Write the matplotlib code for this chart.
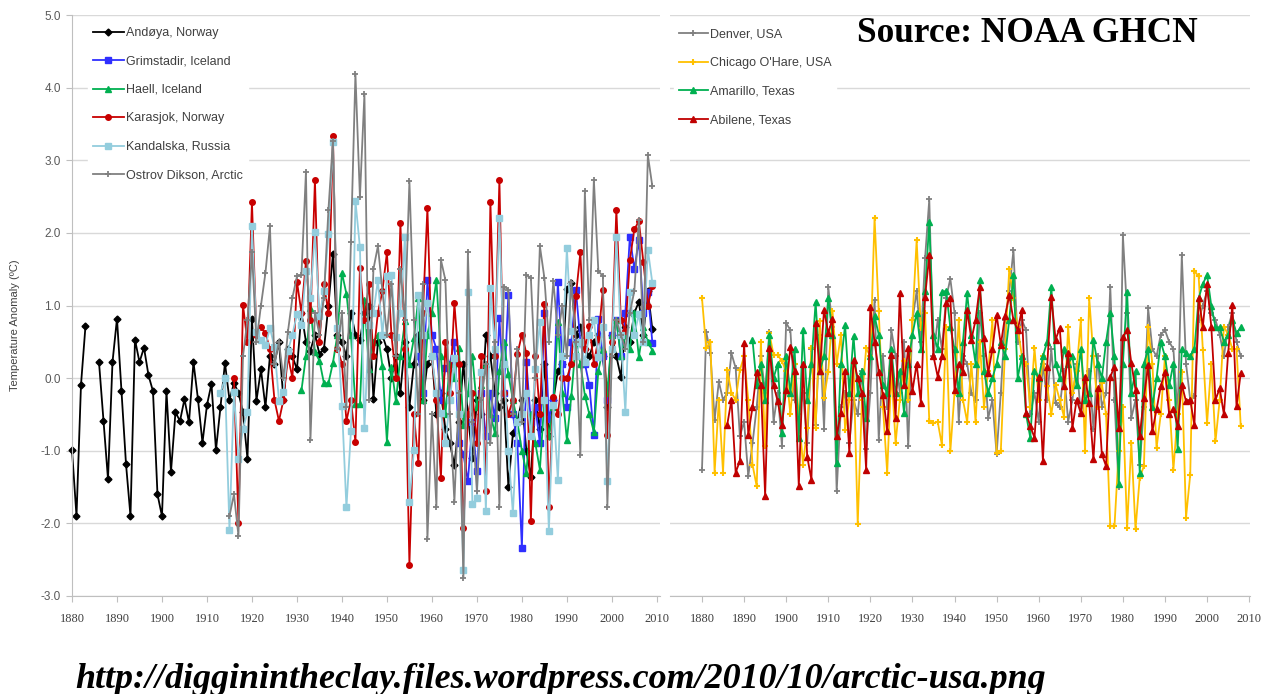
import numpy as np
import matplotlib.pyplot as plt

nan = np.nan

# ---- left panel: Arctic stations, temperature anomaly (deg C), one value per year
andoya_start = 1880
andoya = [-0.99, -1.9, -0.09, 0.72, nan, nan, 0.22, -0.59, -1.39, 0.22,
          0.82, -0.18, -1.18, -1.9, 0.53, 0.22, 0.42, 0.04, -0.18, -1.6,
          -1.9, -0.18, -1.29, -0.47, -0.59, -0.29, -0.61, 0.22, -0.29, -0.89,
          -0.37, -0.08, -0.99, -0.4, 0.21, -0.3, -0.07, -0.2, -0.47, -1.11,
          0.81, -0.31, 0.12, -0.4, 0.31, 0.2, 0.5, -0.3, 0.4, 0.3,
          0.12, 0.9, 0.5, 0.38, 0.6, 0.33, 0.4, 1.0, 1.71, 0.6,
          0.5, 0.3, 0.9, 0.6, 0.52, 0.9, 1.0, -0.29, 0.5, 0.59,
          0.4, 0.0, 0.3, -0.2, 0.5, -0.4, 0.2, 0.6, -0.3, 0.2,
          0.3, -0.5, -0.2, -0.7, -0.9, -1.2, -0.6, 0.2, -0.5, -1.1,
          -0.3, -0.5, 0.6, 0.3, -0.2, -0.4, -0.3, -1.5, -0.76, -0.6,
          -0.3, -1.0, -1.36, -0.3, -0.7, 0.2, -0.8, -0.3, 0.1, 0.2,
          1.23, 1.31, 0.6, 0.7, 0.4, 0.3, 0.5, 0.6, 0.3, -0.4,
          0.6, 0.3, 0.02, 0.7, 0.5, 0.9, 1.05, 0.6, 1.2, 0.67]

grimstadir_start = 1957
grimstadir = [0.3, -0.2, 1.35,
              0.6, 0.4, -0.3, 0.14, 0.2, 0.5, -0.9, -1.05, -1.42, -0.6,
              -1.28, -0.2, -0.8, -0.2, -0.55, 0.83, -0.2, 1.15, -0.5, -0.9,
              -2.34, 0.22, -0.6, -0.4, -0.9, 0.9, -0.56, -0.3, 1.32, 0.2,
              -0.4, 0.5, 1.22, 0.5, 0.2, -0.1, -0.79, 0.81, 0.3, -0.3,
              0.6, 0.8, 0.3, 0.9, 1.95, 1.5, 1.9, 0.9, 1.18, 0.49]

haell_start = 1931
haell = [-0.17, 0.3, 0.97, 0.36, 0.24, -0.07, -0.07, 0.21, 0.6,
         1.45, 1.16, 0.59, -0.36, -0.36, 1.07, 0.12, 0.5, 0.6, 0.17,
         -0.88, 0.16, -0.32, 0.3, 0.78, 0.2, 0.55, 1.1, -0.3, 0.6,
         0.9, 1.35, 0.3, -0.5, 0.2, 0.0, 0.41, -0.64, -0.2, 0.3,
         -0.4, -0.1, 0.2, -0.5, -0.76, 0.1, 0.5, 0.05, -0.3, -0.6,
         -1.0, -1.3, -0.5, -0.9, -1.26, -0.3, -0.8, -0.4, 0.77, -0.2,
         -0.85, -0.24, 0.49, 0.2, -0.24, -0.5, -0.74, 0.1, 0.4, -0.2,
         0.6, 0.8, 0.3, 0.6, 0.4, 0.9, 0.29, 0.7, 0.5, 0.38]

karasjok_start = 1916
karasjok = [0.0, -1.99, 1.01, 0.5,
            2.42, 0.6, 0.7, 0.62, 0.4, -0.3, -0.59, -0.3, 0.3, 0.0,
            1.33, 0.9, 1.61, 0.8, 2.73, 0.5, 1.3, 0.9, 3.33, 0.4,
            0.2, -0.59, -0.3, -0.88, 1.52, 0.8, 1.3, 0.3, 0.9, 1.2,
            1.73, 0.6, 0.0, 2.13, 0.4, -2.57, -0.5, -1.17, 0.9, 2.34,
            0.3, -0.3, -1.38, 0.5, -0.2, 1.03, 0.2, -2.06, -0.5, -0.2,
            -0.9, 0.3, -1.56, 2.43, 0.3, 2.73, -0.2, -0.5, -0.3, 0.33,
            0.6, 0.34, -1.97, 0.31, -0.49, 1.02, -1.77, -0.26, -0.5, 0.0,
            0.0, 0.2, 1.13, 1.73, 0.4, 0.72, 0.2, 0.54, 1.22, -0.79,
            0.5, 2.32, 0.8, 0.65, 1.63, 2.05, 2.16, 1.6, 1.0, 1.27]

kandalaksha_start = 1913
kandalaksha = [-0.21, 0.0, -2.09, -0.19, -1.11, -0.7, -0.47,
               2.09, 0.64, 0.52, 0.45, 0.69, 0.43, -0.31, -0.19, 0.38, 0.6,
               0.88, 0.73, 1.47, 1.1, 2.01, 0.85, 1.2, 1.99, 3.25, 0.69,
               -0.38, -1.78, -0.73, 2.44, 1.8, -0.69, 0.73, 0.9, 1.35, 0.59,
               1.4, 1.42, 0.57, 0.9, 1.95, -1.7, -0.99, 1.15, 0.6, 1.03,
               0.3, -0.2, -0.48, -0.9, -0.3, 0.28, -0.5, -2.64, 1.18, -1.74,
               -1.65, 0.09, -1.83, 1.24, 0.4, 2.2, 0.2, -1.01, -1.86, -0.6,
               -0.5, -0.2, -0.8, 0.13, 0.77, -0.3, -2.1, -0.37, -1.4, 0.3,
               1.79, 0.65, 0.3, 0.5, 0.22, 0.6, 0.8, 0.29, 0.7, -1.42,
               0.4, 1.95, 0.6, -0.47, 1.18, 0.6, 0.88, 0.5, 1.77, 1.31]

dikson_start = 1915
dikson = [-1.9, -1.6, -2.17, 0.3, 0.8,
          1.73, 0.5, 1.0, 1.45, 2.09, 0.2, 0.5, 0.0, 0.64, 1.11,
          1.4, 1.42, 2.84, -0.85, 0.9, 0.6, 1.11, 2.32, 3.27, 0.4,
          0.9, -0.4, 1.87, 4.19, 2.49, 3.91, -0.3, 1.5, 1.82, 1.2,
          0.6, 1.3, 0.3, 1.5, 0.8, 2.71, 0.8, -0.5, 1.3, -2.22,
          -0.5, -1.77, 1.63, 1.35, -0.5, -1.7, -0.2, -2.75, 1.74, -0.6,
          -1.56, -0.3, 0.2, -0.9, 0.5, -1.77, 1.26, 1.22, -0.5, 0.4,
          -0.6, 1.42, 1.38, 0.0, 1.82, 1.38, 0.5, 1.34, 0.6, 1.0,
          0.3, 1.32, 0.5, -1.06, 2.57, 0.8, 2.73, 1.47, 1.41, -1.77,
          0.3, 0.8, 0.6, 0.4, 0.9, 1.2, 2.18, 0.5, 3.07, 2.64]

# ---- right panel: USA stations
denver_start = 1880
denver = [-1.26, 0.64, 0.34, -0.57, -0.05, -0.3, -0.2, 0.34, 0.14, -0.8,
          -0.6, -1.35, -0.9, -0.4, 0.3, -0.2, 0.64, -0.6, -0.2, -0.94,
          0.76, 0.66, -0.3, -0.5, -0.2, -0.9, 0.4, -0.64, 0.6, -0.7,
          1.26, 0.7, -1.56, -0.4, -0.2, -0.9, -0.3, -0.5, 0.1, -0.98,
          -0.2, 1.08, -0.85, 0.3, -0.4, 0.66, 0.3, -0.2, 0.5, -0.94,
          0.8, 1.2, 0.5, 1.65, 2.46, 0.3, 0.8, 0.4, 1.1, 1.37,
          0.9, -0.6, 0.3, 0.2, -0.2, -0.3, 0.9, 0.3, -0.55, -0.3,
          -1.05, -0.2, 0.8, 1.2, 1.76, 0.5, 0.8, 0.66, -0.5, -0.2,
          -0.6, 0.2, -0.3, 0.4, -0.34, -0.4, 0.1, -0.6, -0.3, 0.2,
          -0.5, -0.2, 0.1, -0.7, 0.3, -0.4, -0.2, 1.26, -0.3, -1.5,
          1.97, 0.9, -0.55, -0.3, -1.2, -0.4, 0.96, 0.4, 0.3, 0.6,
          0.66, 0.5, 0.4, -0.5, 1.69, 0.2, -0.3, -0.25, 0.8, 1.0,
          1.2, 0.9, 0.8, 0.6, 0.3, 0.7, 0.9, 0.5, 0.3]

chicago_start = 1880
chicago = [1.1, 0.41, 0.5, -1.3, -0.3, -1.3, 0.11, -0.2, -0.3, 0.11,
           0.3, -0.3, -1.19, -1.49, 0.5, -0.94, 0.62, 0.32, 0.32, 0.23,
           0.1, -0.5, 0.2, -0.5, -1.19, -0.69, 0.41, -0.69, 0.78, -0.27,
           0.09, 0.92, 0.2, 0.59, -0.71, -0.3, 0.2, -2.01, -0.3, 0.41,
           0.3, 2.21, 0.92, -0.4, -1.3, 0.1, -0.89, -0.3, 0.23, -0.3,
           0.8, 1.9, 0.69, 0.9, -0.59, -0.62, -0.6, -0.92, 0.7, -1.01,
           -0.2, 0.8, -0.3, -0.6, 0.2, -0.6, 0.5, -0.4, 0.1, 0.8,
           -1.03, -1.0, 0.4, 1.5, 1.1, 0.71, 0.3, 0.2, -0.4, 0.41,
           -0.3, 0.3, -0.11, -0.5, -0.09, -0.3, -0.53, 0.71, -0.2, 0.1,
           0.8, -1.01, 1.1, 0.3, -0.4, -0.07, -0.5, -2.04, -2.04, -1.01,
           -0.4, -2.06, -0.9, -2.08, -1.37, -1.21, 0.71, 0.2, -0.96, -0.5,
           0.3, -0.3, -1.26, -0.5, 0.09, -1.92, -1.33, 1.48, 1.4, 0.39,
           -0.62, 0.2, -0.87, -0.3, 0.71, 0.6, 0.4, 0.4, -0.66]

amarillo_start = 1892
amarillo = [0.53, -0.1, 0.2, -0.3, 0.6, 0.0, 0.2, -0.76,
            0.3, -0.2, 0.4, -0.82, 0.66, -0.3, 0.2, 1.05, 0.1, 0.3,
            1.1, 0.6, -1.17, 0.2, 0.73, -0.2, 0.58, -0.2, 0.1, -0.55,
            0.3, 0.85, 0.6, -0.1, -0.2, 0.4, -0.2, 0.1, -0.48, 0.2,
            0.6, 0.9, 0.4, 1.2, 2.15, 0.6, 0.4, 1.19, 1.2, 0.7,
            0.4, -0.2, 0.5, 1.17, 0.6, 0.2, 1.35, 0.1, -0.2, 0.0,
            0.2, 0.5, 0.3, 0.8, 1.42, 0.0, 0.3, -0.5, -0.82, 0.1,
            0.0, 0.3, 0.5, 1.26, 0.2, 0.0, 0.4, 0.2, 0.3, -0.1,
            0.4, -0.3, -0.2, 0.53, 0.2, 0.0, 0.5, 0.89, 0.3, -1.46,
            0.2, 1.19, -0.2, 0.1, -1.3, 0.2, 0.4, -0.4, 0.0, 0.5,
            0.3, -0.1, 0.2, -0.98, 0.4, 0.34, 0.3, 0.4, 1.1, 1.3,
            1.42, 1.0, 0.7, 0.7, 0.5, 0.6, 0.8, 0.62, 0.7]

abilene_start = 1886
abilene = [-0.64, -0.3, -1.3, -1.14,
           0.48, -0.78, -0.4, 0.09, -0.1, -1.62, 0.41, -0.1, -0.32, -0.64,
           -0.16, 0.43, 0.1, -1.49, 0.2, -1.08, -1.4, 0.76, 0.1, 0.94,
           0.62, 0.82, -0.8, -0.48, 0.1, -1.03, 0.25, 0.0, -0.2, -1.26,
           0.98, 0.5, 0.09, -0.23, -0.73, 0.32, -0.55, 1.17, -0.09, 0.41,
           -0.18, 0.2, -0.34, 1.12, 1.69, 0.3, 0.02, 0.3, 1.03, 1.1,
           -0.16, 0.2, 0.09, 0.94, 0.53, 0.8, 1.26, 0.55, 0.07, 0.4,
           0.87, 0.46, 0.85, 1.14, 0.8, 0.66, 0.94, -0.48, -0.66, -0.82,
           0.02, -1.14, 0.16, 1.12, 0.53, 0.69, -0.11, 0.34, -0.69, -0.3,
           -0.48, 0.02, -0.34, -1.12, -0.14, -1.05, -1.21, 0.02, 0.16, -0.69,
           0.57, 0.66, 0.21, -0.16, -0.8, -0.27, 0.18, -0.73, -0.43, -0.11,
           0.09, -0.5, -0.43, -0.66, -0.09, -0.32, -0.3, -0.65, 1.1, 0.71,
           1.3, 0.71, -0.3, -0.14, -0.5, 0.34, 1.01, -0.39, 0.07]

decades = list(range(1880, 2011, 10))
yticks = list(range(-3, 6))

W, H = 1281, 694
fig = plt.figure(figsize=(W / 100, H / 100), dpi=100)
top, bot = 15, 596
axL = fig.add_axes([72 / W, 1 - bot / H, (660 - 72) / W, (bot - top) / H])
axR = fig.add_axes([670 / W, 1 - bot / H, (1250 - 670) / W, (bot - top) / H])


def draw(ax, start, vals, label, color, marker, ms, mew=1.0):
    yrs = np.arange(start, start + len(vals))
    ax.plot(yrs, vals, color=color, lw=1.3, marker=marker, ms=ms,
            mfc=color, mec=color, mew=mew, label=label, clip_on=False)


draw(axL, andoya_start, andoya, 'Andøya, Norway', 'black', 'D', 3.5)
draw(axL, grimstadir_start, grimstadir, 'Grimstadir, Iceland', '#2f2fff', 's', 4)
draw(axL, haell_start, haell, 'Haell, Iceland', '#00b050', '^', 4)
draw(axL, karasjok_start, karasjok, 'Karasjok, Norway', '#c80000', 'o', 4)
draw(axL, kandalaksha_start, kandalaksha, 'Kandalska, Russia', '#93cddd', 's', 4)
draw(axL, dikson_start, dikson, 'Ostrov Dikson, Arctic', '#808080', '+', 5, 1.3)

draw(axR, denver_start, denver, 'Denver, USA', '#808080', '+', 5, 1.3)
draw(axR, chicago_start, chicago, "Chicago O'Hare, USA", '#ffc000', '+', 5, 1.5)
draw(axR, amarillo_start, amarillo, 'Amarillo, Texas', '#00b050', '^', 4)
draw(axR, abilene_start, abilene, 'Abilene, Texas', '#c00000', '^', 4)

axL.set_xlim(1880, 2010.7)
axR.set_xlim(1872.4, 2010.2)

for ax in (axL, axR):
    ax.set_ylim(-3, 5)
    ax.set_yticks(yticks)
    ax.grid(axis='y', color='#d9d9d9', lw=1)
    ax.set_axisbelow(True)
    ax.set_xticks(decades)
    ax.set_xticklabels([str(d) for d in decades], fontfamily='Liberation Serif',
                       fontsize=9, color='#404040')
    ax.tick_params(axis='x', length=4, color='#bfbfbf', pad=8)
    for s in ('top', 'right'):
        ax.spines[s].set_visible(False)
    ax.spines['bottom'].set_color('#bfbfbf')
    ax.spines['left'].set_color('#bfbfbf')

axL.set_yticklabels(['%.1f' % v for v in yticks], fontfamily='Liberation Sans',
                    fontsize=8.5, color='#595959')
axL.tick_params(axis='y', length=4, color='#bfbfbf', pad=4)
axR.spines['left'].set_visible(False)
axR.tick_params(axis='y', left=False, labelleft=False)

fig.text(15 / W, 1 - 325 / H, 'Temperature Anomaly (ºC)', rotation=90,
         ha='center', va='center', fontsize=8, color='#404040',
         fontfamily='Liberation Sans')

leg_kw = dict(loc='upper left', frameon=True, fancybox=False,
              edgecolor='white', facecolor='white', framealpha=1,
              labelspacing=1.32, handletextpad=0.15, borderpad=0.4,
              prop={'family': 'Liberation Sans', 'size': 9})
legL = axL.legend(bbox_to_anchor=(0.015, 1), handlelength=2.5,
                  borderaxespad=0.55, **leg_kw)
legR = axR.legend(bbox_to_anchor=(-0.008, 1), handlelength=2.3,
                  borderaxespad=0.7, **leg_kw)
for leg in (legL, legR):
    for t in leg.get_texts():
        t.set_color('#404040')

src = fig.text(857 / W, 1 - 34 / H, 'Source: NOAA GHCN', ha='left', va='center',
               fontfamily='Liberation Serif', fontweight='bold', fontsize=25)
url = fig.text(75 / W, 1 - 679 / H,
               'http://digginintheclay.files.wordpress.com/2010/10/arctic-usa.png',
               ha='left', va='center', fontfamily='Liberation Serif',
               fontweight='bold', fontstyle='italic', fontsize=22)

# scale the two big captions to the widths they have in the picture
fig.canvas.draw()
rend = fig.canvas.get_renderer()
for t, w in ((src, 341), (url, 970)):
    bb = t.get_window_extent(rend)
    t.set_fontsize(t.get_fontsize() * w / bb.width)

fig.savefig('out.png', dpi=100, facecolor='white')
